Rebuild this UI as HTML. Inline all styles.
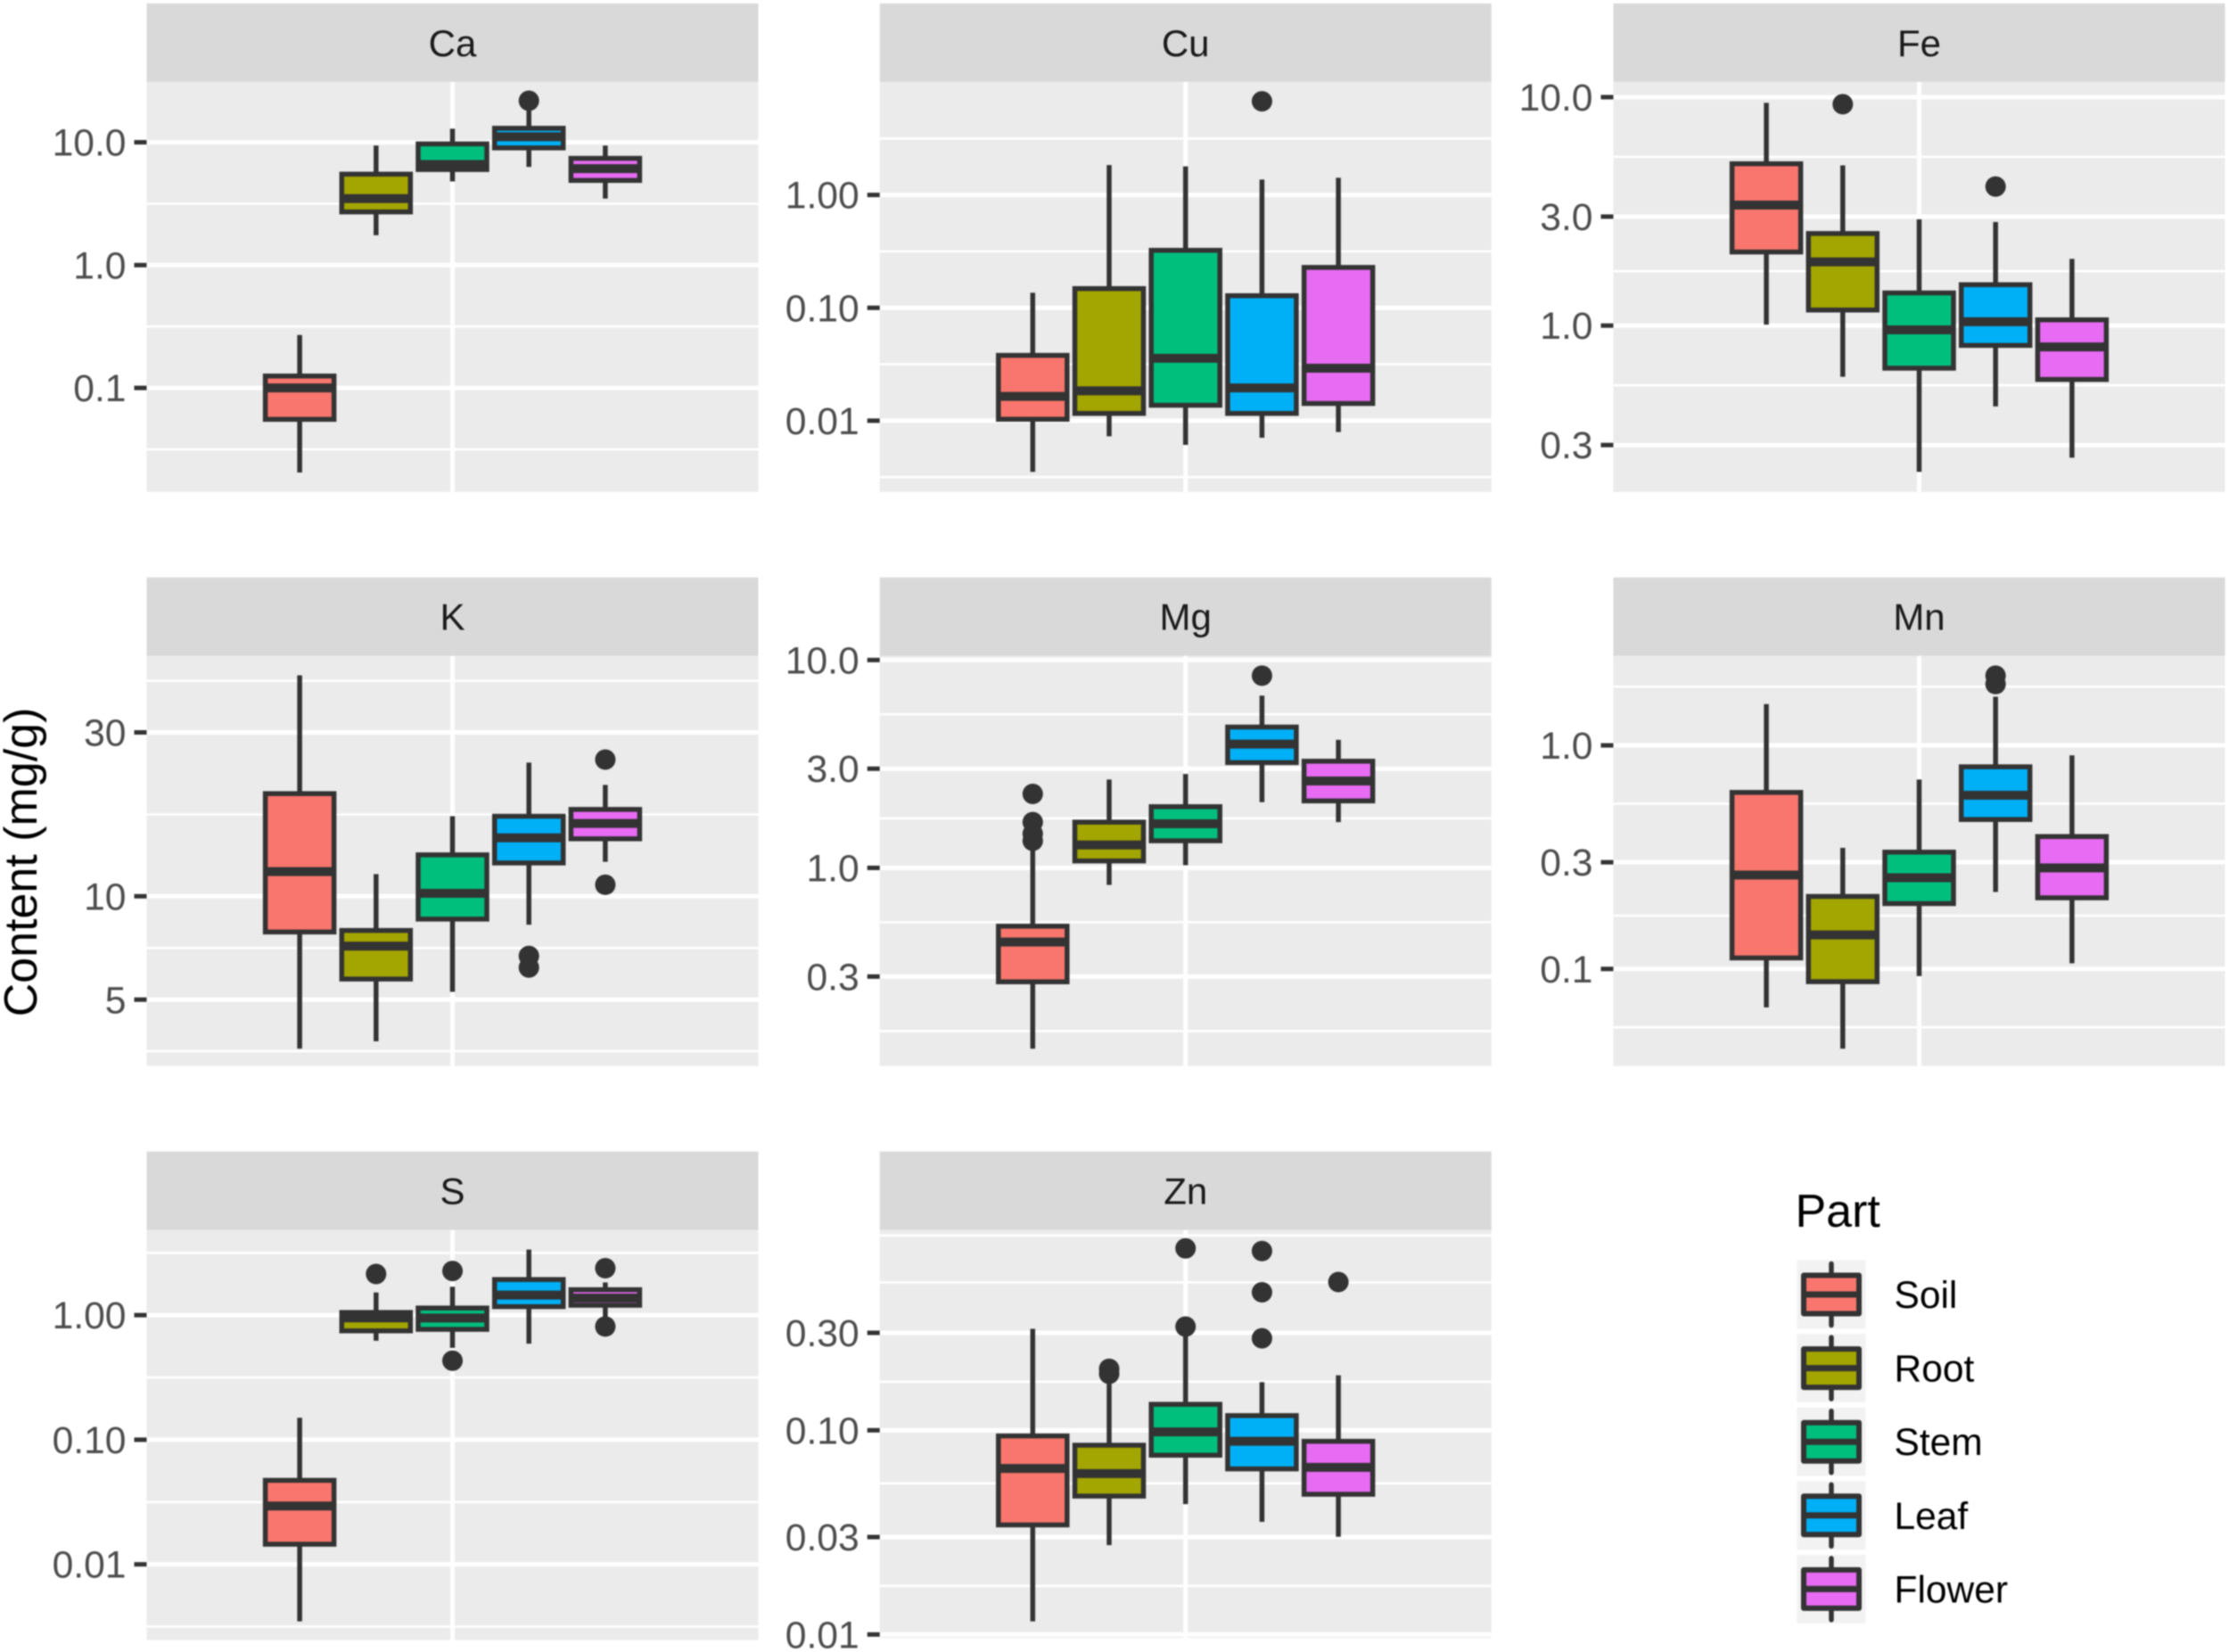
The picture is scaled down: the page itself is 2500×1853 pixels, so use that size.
<!DOCTYPE html>
<html lang="en">
<head>
<meta charset="utf-8">
<title>Element content by plant part</title>
<style>
  html, body { margin: 0; padding: 0; background: #ffffff; overflow: hidden; }
  #chart { display: block; width: 2500px; height: 1853px; font-family: "Liberation Sans", sans-serif; filter: blur(0.7px); }
</style>
</head>
<body>
<svg id="chart" xmlns="http://www.w3.org/2000/svg" width="2500" height="1853" viewBox="0 0 2500 1853">
  <rect x="0" y="0" width="2500" height="1853" fill="#ffffff"/>
  <text transform="translate(41 967) rotate(-90)" text-anchor="middle" font-size="52" fill="#000000">Content (mg/g)</text>
</svg>
<script>
const partNames = ['Soil', 'Root', 'Stem', 'Leaf', 'Flower'];
const partColors = ['#F8766D', '#A3A500', '#00BF7D', '#00B0F6', '#E76BF3'];
const legendTitle = 'Part';

const caDomain = [0.0143, 31.2];
const caTicks = [10, 1, 0.1];
const caTickLabels = ['10.0', '1.0', '0.1'];
const caMinor = [3.16, 0.316, 0.0316];
const caLow = [0.0205, 1.75, 4.8, 6.3, 3.48];
const caQ1 = [0.0555, 2.71, 6.0, 9.0, 4.89];
const caMed = [0.10, 3.48, 6.6, 11.1, 6.1];
const caQ3 = [0.125, 5.5, 9.7, 13.0, 7.4];
const caHigh = [0.27, 9.4, 12.9, 18.1, 9.4];
const caOutliers = [[], [], [], [21.8], []];

const cuDomain = [0.00235, 10.1];
const cuTicks = [1, 0.1, 0.01];
const cuTickLabels = ['1.00', '0.10', '0.01'];
const cuMinor = [3.16, 0.316, 0.0316, 0.00316];
const cuLow = [0.00352, 0.00727, 0.0061, 0.00706, 0.00793];
const cuQ1 = [0.0103, 0.0116, 0.0137, 0.0116, 0.0142];
const cuMed = [0.0164, 0.0184, 0.0357, 0.0195, 0.0292];
const cuQ3 = [0.0379, 0.148, 0.323, 0.128, 0.228];
const cuHigh = [0.136, 1.84, 1.79, 1.37, 1.42];
const cuOutliers = [[], [], [], [6.76], []];

const feDomain = [0.1875, 11.7];
const feTicks = [10, 3, 1, 0.3];
const feTickLabels = ['10.0', '3.0', '1.0', '0.3'];
const feMinor = [5.48, 1.73, 0.548];
const feLow = [1.01, 0.597, 0.229, 0.443, 0.264];
const feQ1 = [2.10, 1.17, 0.651, 0.819, 0.581];
const feMed = [3.37, 1.90, 0.958, 1.04, 0.807];
const feQ3 = [5.11, 2.53, 1.39, 1.51, 1.06];
const feHigh = [9.44, 5.03, 2.92, 2.84, 1.96];
const feOutliers = [[], [9.31], [], [4.06], []];

const kDomain = [3.21, 50.2];
const kTicks = [30, 10, 5];
const kTickLabels = ['30', '10', '5'];
const kMinor = [42.4, 17.3, 7.07, 3.54];
const kLow = [3.6, 3.78, 5.27, 8.26, 12.6];
const kQ1 = [7.87, 5.74, 8.58, 12.5, 14.7];
const kMed = [11.8, 7.16, 10.2, 14.8, 16.3];
const kQ3 = [19.9, 7.95, 13.2, 17.1, 17.9];
const kHigh = [44, 11.6, 17.1, 24.5, 21.1];
const kOutliers = [[], [], [], [6.7, 6.2], [25, 10.8]];

const mgDomain = [0.1117, 10.5];
const mgTicks = [10, 3, 1, 0.3];
const mgTickLabels = ['10.0', '3.0', '1.0', '0.3'];
const mgMinor = [5.48, 1.73, 0.548, 0.164];
const mgLow = [0.135, 0.828, 1.03, 2.07, 1.66];
const mgQ1 = [0.283, 1.08, 1.35, 3.21, 2.10];
const mgMed = [0.44, 1.29, 1.63, 3.94, 2.62];
const mgQ3 = [0.524, 1.66, 1.97, 4.76, 3.26];
const mgHigh = [1.25, 2.66, 2.83, 6.74, 4.13];
const mgOutliers = [[2.27, 1.66, 1.46, 1.35], [], [], [8.41], []];

const mnDomain = [0.0369, 2.52];
const mnTicks = [1, 0.3, 0.1];
const mnTickLabels = ['1.0', '0.3', '0.1'];
const mnMinor = [1.83, 0.548, 0.173, 0.0548];
const mnLow = [0.0673, 0.044, 0.0929, 0.221, 0.106];
const mnQ1 = [0.112, 0.0877, 0.196, 0.466, 0.208];
const mnMed = [0.263, 0.142, 0.256, 0.598, 0.283];
const mnQ3 = [0.616, 0.211, 0.333, 0.802, 0.391];
const mnHigh = [1.53, 0.348, 0.703, 1.65, 0.902];
const mnOutliers = [[], [], [], [2.05, 1.88], []];

const sDomain = [0.00248, 4.85];
const sTicks = [1, 0.1, 0.01];
const sTickLabels = ['1.00', '0.10', '0.01'];
const sMinor = [3.16, 0.316, 0.0316, 0.00316];
const sLow = [0.00349, 0.623, 0.546, 0.59, 0.97];
const sQ1 = [0.0145, 0.748, 0.769, 1.17, 1.2];
const sMed = [0.0294, 0.95, 0.949, 1.45, 1.37];
const sQ3 = [0.0472, 1.05, 1.14, 1.93, 1.6];
const sHigh = [0.15, 1.52, 1.69, 3.36, 1.83];
const sOutliers = [[], [2.14], [2.26, 0.431], [], [2.38, 0.81]];

const znDomain = [0.00942, 0.96];
const znTicks = [0.3, 0.1, 0.03, 0.01];
const znTickLabels = ['0.30', '0.10', '0.03', '0.01'];
const znMinor = [0.9, 0.53, 0.173, 0.055, 0.0173, 0.0095];
const znLow = [0.0116, 0.0274, 0.0435, 0.0356, 0.0301];
const znQ1 = [0.0344, 0.0476, 0.0755, 0.0647, 0.0486];
const znMed = [0.065, 0.0614, 0.0982, 0.0883, 0.0658];
const znQ3 = [0.0938, 0.0845, 0.134, 0.118, 0.0883];
const znHigh = [0.314, 0.169, 0.291, 0.172, 0.186];
const znOutliers = [[], [0.2, 0.189], [0.778, 0.322], [0.755, 0.474, 0.282], [0.532]];

const panels = [
  { title: 'Ca', column: 0, row: 0, domain: caDomain, ticks: caTicks, tickLabels: caTickLabels, minor: caMinor, low: caLow, q1: caQ1, med: caMed, q3: caQ3, high: caHigh, outliers: caOutliers },
  { title: 'Cu', column: 1, row: 0, domain: cuDomain, ticks: cuTicks, tickLabels: cuTickLabels, minor: cuMinor, low: cuLow, q1: cuQ1, med: cuMed, q3: cuQ3, high: cuHigh, outliers: cuOutliers },
  { title: 'Fe', column: 2, row: 0, domain: feDomain, ticks: feTicks, tickLabels: feTickLabels, minor: feMinor, low: feLow, q1: feQ1, med: feMed, q3: feQ3, high: feHigh, outliers: feOutliers },
  { title: 'K', column: 0, row: 1, domain: kDomain, ticks: kTicks, tickLabels: kTickLabels, minor: kMinor, low: kLow, q1: kQ1, med: kMed, q3: kQ3, high: kHigh, outliers: kOutliers },
  { title: 'Mg', column: 1, row: 1, domain: mgDomain, ticks: mgTicks, tickLabels: mgTickLabels, minor: mgMinor, low: mgLow, q1: mgQ1, med: mgMed, q3: mgQ3, high: mgHigh, outliers: mgOutliers },
  { title: 'Mn', column: 2, row: 1, domain: mnDomain, ticks: mnTicks, tickLabels: mnTickLabels, minor: mnMinor, low: mnLow, q1: mnQ1, med: mnMed, q3: mnQ3, high: mnHigh, outliers: mnOutliers },
  { title: 'S', column: 0, row: 2, domain: sDomain, ticks: sTicks, tickLabels: sTickLabels, minor: sMinor, low: sLow, q1: sQ1, med: sMed, q3: sQ3, high: sHigh, outliers: sOutliers },
  { title: 'Zn', column: 1, row: 2, domain: znDomain, ticks: znTicks, tickLabels: znTickLabels, minor: znMinor, low: znLow, q1: znQ1, med: znMed, q3: znQ3, high: znHigh, outliers: znOutliers }
];

const SVG_NS = 'http://www.w3.org/2000/svg';
const svg = document.getElementById('chart');

const COLUMN_LEFT = [164.5, 986.7, 1809.5];
const ROW_TOP = [3.8, 647.7, 1291.6];
const PANEL_WIDTH = 686;
const STRIP_HEIGHT = 88;
const PLOT_HEIGHT = 460;
const DODGE = 85.7;
const BOX_WIDTH = 77;
const DARK = '#333333';

function make(parent, tag, attrs, text) {
  const el = document.createElementNS(SVG_NS, tag);
  for (const key in attrs) el.setAttribute(key, attrs[key]);
  if (text !== undefined) el.textContent = text;
  parent.appendChild(el);
  return el;
}

function slug(s) {
  return String(s).toLowerCase().replace(/[^a-z0-9]+/g, '-');
}

function logScale(domain, top, bottom) {
  const lo = Math.log10(domain[0]);
  const hi = Math.log10(domain[1]);
  return function (v) {
    return bottom - (Math.log10(v) - lo) / (hi - lo) * (bottom - top) - 0.3;
  };
}

panels.forEach(function (p) {
  const left = COLUMN_LEFT[p.column];
  const right = left + PANEL_WIDTH;
  const stripTop = ROW_TOP[p.row];
  const top = stripTop + STRIP_HEIGHT;
  const bottom = top + PLOT_HEIGHT;
  const cx = left + PANEL_WIDTH / 2;
  const y = logScale(p.domain, top, bottom);
  const name = slug(p.title);

  const group = make(svg, 'g', {});
  
  

  const bg = make(group, 'rect', { x: left, y: top, width: PANEL_WIDTH, height: PLOT_HEIGHT, fill: '#ebebeb' });
  
  

  p.minor.forEach(function (v) {
    const line = make(group, 'line', { x1: left, x2: right, y1: y(v), y2: y(v), stroke: '#ffffff', 'stroke-width': 2.6 });
    
    
  });

  p.ticks.forEach(function (v) {
    const line = make(group, 'line', { x1: left, x2: right, y1: y(v), y2: y(v), stroke: '#ffffff', 'stroke-width': 5 });
    
    
  });

  const vertical = make(group, 'line', { x1: cx, x2: cx, y1: top, y2: bottom, stroke: '#ffffff', 'stroke-width': 5 });
  
  

  const strip = make(group, 'rect', { x: left, y: stripTop, width: PANEL_WIDTH, height: STRIP_HEIGHT, fill: '#d9d9d9' });
  
  

  const stripLabel = make(group, 'text', { x: cx, y: stripTop + 59, 'text-anchor': 'middle', 'font-size': 42, fill: '#1a1a1a' }, p.title);
  
  

  p.ticks.forEach(function (v, i) {
    const mark = make(group, 'line', { x1: left - 14, x2: left, y1: y(v), y2: y(v), stroke: DARK, 'stroke-width': 5 });
    
    
    const label = make(group, 'text', { x: left - 23, y: y(v) + 15, 'text-anchor': 'end', 'font-size': 42.6, fill: '#4d4d4d' }, p.tickLabels[i]);
    
    
  });

  partNames.forEach(function (part, i) {
    const x = cx + (i - 2) * DODGE;
    const partGroup = make(group, 'g', {});
    
    

    const upper = make(partGroup, 'line', { x1: x, x2: x, y1: y(p.high[i]), y2: y(p.q3[i]), stroke: DARK, 'stroke-width': 5.5 });
    
    

    const lower = make(partGroup, 'line', { x1: x, x2: x, y1: y(p.q1[i]), y2: y(p.low[i]), stroke: DARK, 'stroke-width': 5.5 });
    
    

    const box = make(partGroup, 'rect', { x: x - BOX_WIDTH / 2, y: y(p.q3[i]), width: BOX_WIDTH, height: y(p.q1[i]) - y(p.q3[i]), fill: partColors[i], stroke: DARK, 'stroke-width': 5.5 });
    
    

    const median = make(partGroup, 'line', { x1: x - BOX_WIDTH / 2, x2: x + BOX_WIDTH / 2, y1: y(p.med[i]), y2: y(p.med[i]), stroke: DARK, 'stroke-width': 10 });
    
    

    p.outliers[i].forEach(function (v) {
      const dot = make(partGroup, 'circle', { cx: x, cy: y(v), r: 11.5, fill: DARK });
      
      
    });
  });
});

const legend = make(svg, 'g', {});



const legendHeading = make(legend, 'text', { x: 2013.5, y: 1376, 'font-size': 52, fill: '#000000' }, legendTitle);



partNames.forEach(function (part, i) {
  const keyTop = 1413.5 + i * 82.6;
  const entry = make(legend, 'g', {});
  
  

  const keyBg = make(entry, 'rect', { x: 2015.5, y: keyTop, width: 77, height: 77, fill: '#f2f2f2' });
  
  

  const whisker = make(entry, 'line', { x1: 2054, x2: 2054, y1: keyTop + 4, y2: keyTop + 73, stroke: DARK, 'stroke-width': 5.5, 'stroke-linecap': 'round' });
  
  

  const keyBox = make(entry, 'rect', { x: 2023, y: keyTop + 17, width: 62, height: 43, fill: partColors[i], stroke: DARK, 'stroke-width': 6, 'stroke-linejoin': 'round' });
  
  

  const keyMedian = make(entry, 'line', { x1: 2023, x2: 2085, y1: keyTop + 38.5, y2: keyTop + 38.5, stroke: DARK, 'stroke-width': 7 });
  
  

  const keyLabel = make(entry, 'text', { x: 2124.5, y: keyTop + 53.5, 'font-size': 42.5, fill: '#000000' }, part);
  
  
});
</script>
</body>
</html>
